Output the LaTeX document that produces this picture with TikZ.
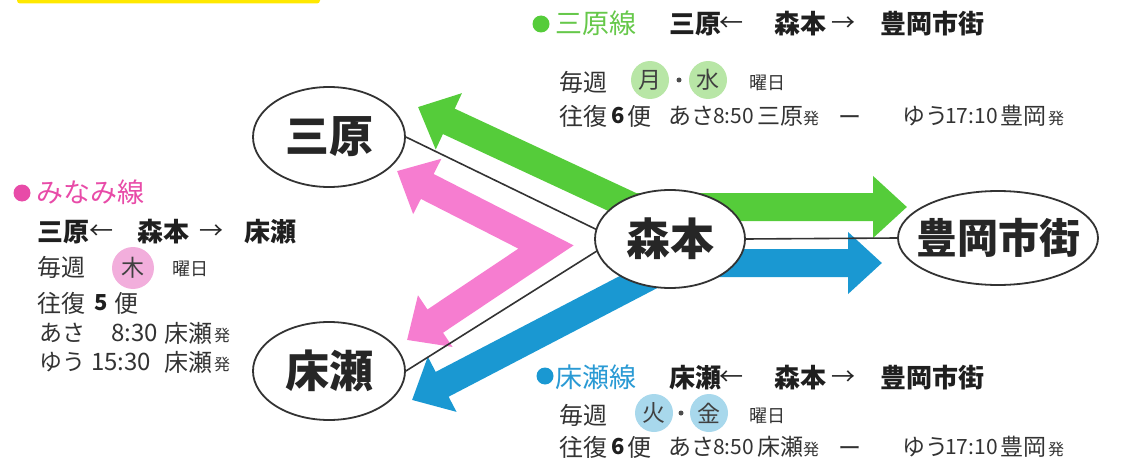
\documentclass[tikz,border=0pt]{standalone}
\usepackage{fontspec}
\newfontfamily\jp{Noto Sans CJK JP}
\usetikzlibrary{shapes.geometric,arrows.meta,backgrounds}
\definecolor{gArrow}{HTML}{55CC3A}
\definecolor{pArrow}{HTML}{F67DD0}
\definecolor{bArrow}{HTML}{1A98D2}
\definecolor{gText}{HTML}{66C84A}
\definecolor{pText}{HTML}{E84BA8}
\definecolor{bText}{HTML}{2A9AD4}
\definecolor{gDay}{HTML}{B8E6A6}
\definecolor{pDay}{HTML}{F2AEDC}
\definecolor{bDay}{HTML}{A8D8EC}
\definecolor{ink}{HTML}{333333}
\definecolor{yel}{HTML}{FFE800}
\begin{document}
\begin{tikzpicture}[x=1pt,y=-1pt,
  station/.style={ellipse,draw=ink,line width=1.8pt,fill=white,inner sep=0pt,text=black!85,
    font=\jp\bfseries\fontsize{44}{44}\selectfont},
  route/.style={line width=28pt,line join=miter,
    arrows={Triangle[width=60pt,length=34pt]-Triangle[width=60pt,length=34pt]}},
  link/.style={draw=ink,line width=1.6pt},
  txt/.style={anchor=west,inner sep=0pt,text=black!80,font=\jp\fontsize{24}{24}\selectfont},
  tb/.style={txt,text=black!88,font=\jp\bfseries\fontsize{26}{26}\selectfont},
  tn/.style={txt,font=\jp\fontsize{27}{27}\selectfont},
  tt/.style={txt,font=\jp\fontsize{23}{23}\selectfont},
  td/.style={txt,font=\jp\fontsize{21}{21}\selectfont},
  tl/.style={txt,font=\jp\fontsize{24}{24}\selectfont},
  ts/.style={txt,font=\jp\fontsize{16}{16}\selectfont},
  ty/.style={txt,font=\jp\fontsize{18}{18}\selectfont},
  dashtxt/.style={anchor=base west,inner sep=0pt,text=black!80,font=\jp\fontsize{23}{23}\selectfont},
  tnum/.style={txt,text=black!88,font=\jp\bfseries\fontsize{22}{22}\selectfont},
  bullet/.style={circle,inner sep=0pt,minimum size=17pt},
  sdot/.style={circle,inner sep=0pt,minimum size=5pt,fill=black!70},
  day/.style={circle,inner sep=0pt,minimum size=38pt,text=black!75,font=\jp\fontsize{23}{23}\selectfont}
]
\useasboundingbox (0,0) rectangle (1144,460);
\fill[yel,rounded corners=3pt] (17,-10) rectangle (320,3.5);

% stations
\node[station,minimum width=152pt,minimum height=100pt] (sanbara) at (329,137) {三原};
\node[station,minimum width=152pt,minimum height=98pt] (tokose) at (329,371) {床瀬};
\node[station,minimum width=150pt,minimum height=98pt] (morimoto) at (670,239) {森本};
\node[station,minimum width=200pt,minimum height=94pt,font=\jp\bfseries\fontsize{41}{41}\selectfont] (toyooka) at (998,238) {\makebox[0pt]{豊岡市街}};

\coordinate (gL) at (418,107);
\coordinate (gHub) at (633,207);
\coordinate (gR) at (907,207);
\coordinate (pU) at (397,171);
\coordinate (pV) at (546,247);
\coordinate (pL) at (407,340);
\coordinate (bL) at (412,400);
\coordinate (bHub) at (675,263);
\coordinate (bR) at (882,263);
\coordinate (hub) at (616,239);

\begin{pgfonlayer}{background}
\draw[route,gArrow] (gL) -- (gHub) -- (gR);
\draw[route,pArrow] (pU) -- (pV) -- (pL);
\draw[route,bArrow] (bL) -- (bHub) -- (bR);
\draw[link] (sanbara.east) -- (hub);
\draw[link] (tokose.east) -- (hub);
\draw[link] (morimoto.east) -- (toyooka.west);
\end{pgfonlayer}

% green block
\node[bullet,fill=gArrow] (gdot) at (541,24) {};
\node[tn,text=gText] (gname) at (555,23) {三原線};
\node[tb] (gA) at (669,24) {三原};
\node[txt,text=black!85] (gAr1) at (719,24) {←};
\node[tb] (gB) at (774,24) {森本};
\node[txt,text=black!85] (gAr2) at (831,24) {→};
\node[tb] (gC) at (880,24) {豊岡市街};
\node[txt] (gw) at (559,82) {毎週};
\node[day,fill=gDay] (gd1) at (650,80) {月};
\node[sdot] (gdt) at (679,80) {};
\node[day,fill=gDay] (gd2) at (708,80) {水};
\node[ty] (gy) at (749,83) {曜日};
\node[txt] (g3a) at (559,116) {往復};
\node[tnum] (g3b) at (611,116) {6};
\node[txt] (g3c) at (627,116) {便};
\node[tt] (g3d) at (668,116) {あさ};
\node[td] (g3e) at (713,116) {8:50};
\node[tt] (g3f) at (757,116) {三原};
\node[ts] (g3g) at (803,118) {発};
\node[dashtxt] (g3h) at (838,125) {ー};
\node[tt] (g3i) at (902,116) {ゆう};
\node[td] (g3j) at (945,116) {17:10};
\node[tt] (g3k) at (1000,116) {豊岡};
\node[ts] (g3l) at (1048,118) {発};

% blue block
\node[bullet,fill=bArrow] (bdot) at (545,376) {};
\node[tn,text=bText] (bname) at (555,377) {床瀬線};
\node[tb] (bA) at (669,378) {床瀬};
\node[txt,text=black!85] (bAr1) at (719,378) {←};
\node[tb] (bB) at (774,378) {森本};
\node[txt,text=black!85] (bAr2) at (831,378) {→};
\node[tb] (bC) at (880,378) {豊岡市街};
\node[txt] (bw) at (559,415) {毎週};
\node[day,fill=bDay] (bd1) at (654,413) {火};
\node[sdot] (bdt) at (681,413) {};
\node[day,fill=bDay] (bd2) at (709,413) {金};
\node[ty] (by) at (749,416) {曜日};
\node[txt] (b3a) at (559,447) {往復};
\node[tnum] (b3b) at (611,447) {6};
\node[txt] (b3c) at (627,447) {便};
\node[tt] (b3d) at (668,447) {あさ};
\node[td] (b3e) at (713,447) {8:50};
\node[tt] (b3f) at (757,447) {床瀬};
\node[ts] (b3g) at (803,449) {発};
\node[dashtxt] (b3h) at (838,456) {ー};
\node[tt] (b3i) at (902,447) {ゆう};
\node[td] (b3j) at (945,447) {17:10};
\node[tt] (b3k) at (1000,447) {豊岡};
\node[ts] (b3l) at (1048,449) {発};

% pink block
\node[bullet,fill=pText] (pdot) at (22,193) {};
\node[tn,text=pText] (pname) at (36,192) {みなみ線};
\node[tb] (pA) at (37,232) {三原};
\node[txt,text=black!85] (pAr1) at (89,232) {←};
\node[tb] (pB) at (137,232) {森本};
\node[txt,text=black!85] (pAr2) at (199,232) {→};
\node[tb] (pC) at (244,232) {床瀬};
\node[txt] (pw) at (37,267) {毎週};
\node[day,fill=pDay,minimum size=42pt] (pd1) at (133,268) {木};
\node[ty] (py) at (172,269) {曜日};
\node[txt] (p4a) at (37,303) {往復};
\node[tnum] (p4b) at (94,303) {5};
\node[txt] (p4c) at (114,303) {便};
\node[tt] (p5a) at (39,333) {あさ};
\node[tl] (p5b) at (111,333) {8:30};
\node[tl] (p5c) at (164,333) {床瀬};
\node[ts] (p5d) at (214,335) {発};
\node[tt] (p6a) at (39,362) {ゆう};
\node[tl] (p6b) at (91,362) {15:30};
\node[tl] (p6c) at (164,362) {床瀬};
\node[ts] (p6d) at (214,364) {発};
\end{tikzpicture}
\end{document}
